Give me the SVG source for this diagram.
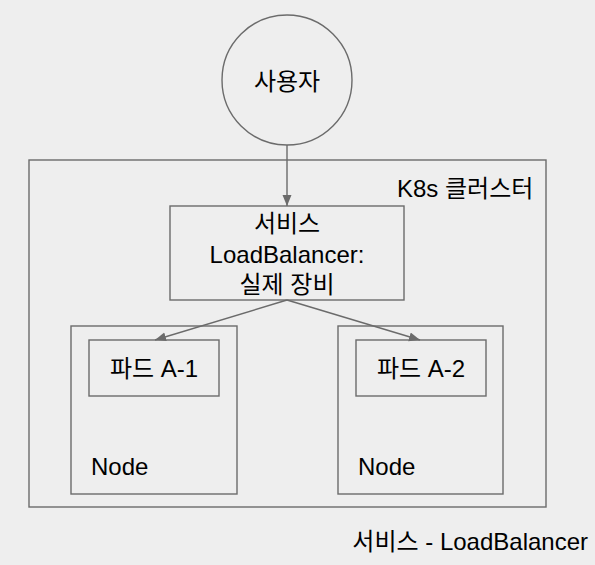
<svg xmlns="http://www.w3.org/2000/svg" width="595" height="565" viewBox="0 0 595 565">
<style>
.box{fill:none;stroke:#6b6b6b;stroke-width:1.4}
.t{font-family:"Liberation Sans","Noto Sans CJK KR",sans-serif;font-size:24px;fill:#000}
.c{text-anchor:middle}
.edge{stroke:#6b6b6b;stroke-width:1.4;fill:none}
</style>
<defs>
<marker id="ah" markerUnits="userSpaceOnUse" markerWidth="12" markerHeight="10" refX="11" refY="4.5" orient="auto">
<path d="M0,0 L11,4.5 L0,9 z" fill="#6b6b6b"/>
</marker>
</defs>
<rect width="595" height="565" fill="#eeeeee"/>
<g id="cluster">
<rect class="box" x="29" y="160" width="517" height="347"/>
<text class="t" x="397" y="197">K8s 클러스터</text>
</g>
<g id="user">
<circle class="box" cx="287" cy="80" r="65"/>
<text class="t c" x="287" y="90">사용자</text>
</g>
<g id="service">
<rect class="box" x="170" y="206" width="234" height="94"/>
<text class="t c" x="287" y="232">서비스</text>
<text class="t c" x="287" y="263">LoadBalancer:</text>
<text class="t c" x="287" y="293">실제 장비</text>
</g>
<g id="node1">
<rect class="box" x="71" y="326" width="166" height="168"/>
<text class="t" x="91" y="475">Node</text>
</g>
<g id="pod1">
<rect class="box" x="89" y="340" width="130" height="56"/>
<text class="t c" x="154" y="377">파드 A-1</text>
</g>
<g id="node2">
<rect class="box" x="338" y="326" width="165" height="168"/>
<text class="t" x="358" y="475">Node</text>
</g>
<g id="pod2">
<rect class="box" x="356" y="340" width="130" height="56"/>
<text class="t c" x="421" y="377">파드 A-2</text>
</g>
<g id="caption">
<text class="t" x="588" y="550" text-anchor="end">서비스 - LoadBalancer</text>
</g>
<g id="connectors">
<line class="edge" x1="287" y1="145" x2="287" y2="206" marker-end="url(#ah)"/>
<line class="edge" x1="287" y1="300" x2="155" y2="340" marker-end="url(#ah)"/>
<line class="edge" x1="287" y1="300" x2="420" y2="340" marker-end="url(#ah)"/>
</g>
</svg>
